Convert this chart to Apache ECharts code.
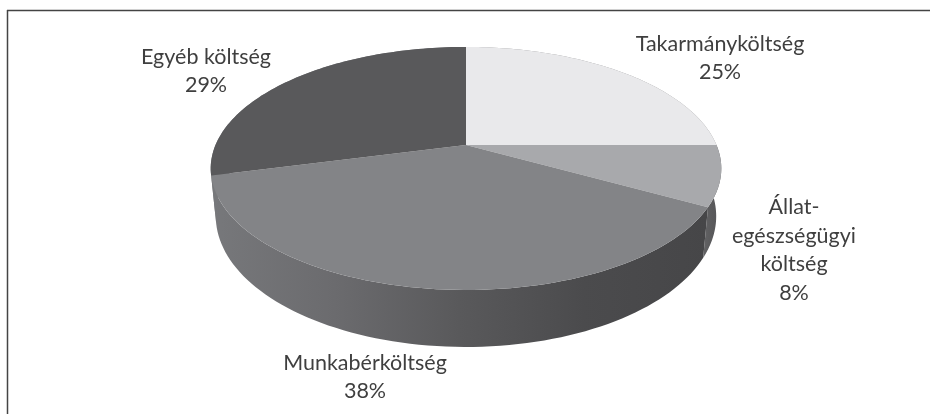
<!DOCTYPE html>
<html>
<head>
<meta charset="utf-8">
<style>
html, body { margin: 0; padding: 0; background: #fff; }
#chart { width: 930px; height: 414px; }
</style>
<script src="https://cdn.jsdelivr.net/npm/echarts@6/dist/echarts.min.js"></script>
</head>
<body>
<div id="chart"></div>
<script>
// clockwise from 12 o'clock
var categories = ['Takarmányköltség', 'Állat-\negészségügyi\nköltség', 'Munkabérköltség', 'Egyéb költség'];
var shares = [25, 8, 38, 29];

var topColors = ['#e9e9eb', '#a8a9ac', '#838487', '#59595b'];
var wallColors = [
	['#8a8a8c', '#8a8a8c'],
	['#636365', '#5c5c5e', '#58585a', '#616163'],
	['#77787b', '#6b6b6e', '#59595b', '#4b4b4d', '#464648'],
	['#77787b', '#77787b']
];
var labelCenters = [[720, 58], [794, 250], [365, 377], [206, 71]];

var myChart = echarts.init(document.getElementById('chart'));

// perspective pie: the centre sits above the middle of the ellipse
var cx = 466, cy = 145, rx = 250.5, ry = 117, tilt = 0.193, depth = 46, bottomScale = 0.98;

function rim(theta, isBottom) {
	var x = Math.sin(theta), y = -Math.cos(theta);
	var w = 1 - tilt * y;
	var sx = isBottom ? rx * bottomScale : rx;
	return [cx + sx * x / w, cy + ry * y / w + (isBottom ? depth / w : 0)];
}

function sliceRange(index) {
	var total = 0, before = 0;
	for (var n = 0; n < shares.length; n++) {
		total += shares[n];
		if (n < index) before += shares[n];
	}
	return [before / total * Math.PI * 2, (before + shares[index]) / total * Math.PI * 2];
}

function arc(range, isBottom, reverse) {
	var pts = [], steps = 80;
	for (var n = 0; n <= steps; n++) {
		var t = reverse ? steps - n : n;
		pts.push(rim(range[0] + (range[1] - range[0]) * t / steps, isBottom));
	}
	return pts;
}

function renderWall(params) {
	var range = sliceRange(params.dataIndex);
	var stops = wallColors[params.dataIndex].map(function(c, i, all) {
		return { offset: i / (all.length - 1), color: c };
	});
	return {
		type : 'polygon',
		shape : { points : arc(range, false, false).concat(arc(range, true, true)) },
		style : { fill : { type : 'linear', x : 0, y : 0, x2 : 1, y2 : 0, colorStops : stops } }
	};
}

function renderTop(params) {
	var range = sliceRange(params.dataIndex);
	return {
		type : 'polygon',
		shape : { points : [[cx, cy]].concat(arc(range, false, false)) },
		style : { fill : topColors[params.dataIndex] }
	};
}

var labels = categories.map(function(name, i) {
	return {
		type : 'text',
		x : labelCenters[i][0],
		y : labelCenters[i][1],
		style : {
			text : name + '\n' + shares[i] + '%',
			font : '21.5px Lato',
			lineHeight : 28.5,
			fill : '#3f3f3f',
			align : 'center',
			verticalAlign : 'middle'
		}
	};
});

var frame = [ {
	type : 'line',
	shape : { x1 : 7.5, y1 : 10, x2 : 7.5, y2 : 414 },
	style : { stroke : '#444', lineWidth : 1.5 }
}, {
	type : 'line',
	shape : { x1 : 7, y1 : 10.5, x2 : 930, y2 : 10.5 },
	style : { stroke : '#444', lineWidth : 1.5 }
} ];

myChart.setOption({
	animation : false,
	backgroundColor : '#fff',
	graphic : frame.concat(labels),
	series : [ {
		type : 'custom',
		coordinateSystem : 'none',
		renderItem : renderWall,
		data : shares
	}, {
		type : 'custom',
		coordinateSystem : 'none',
		renderItem : renderTop,
		data : shares
	} ]
});
</script>
</body>
</html>
